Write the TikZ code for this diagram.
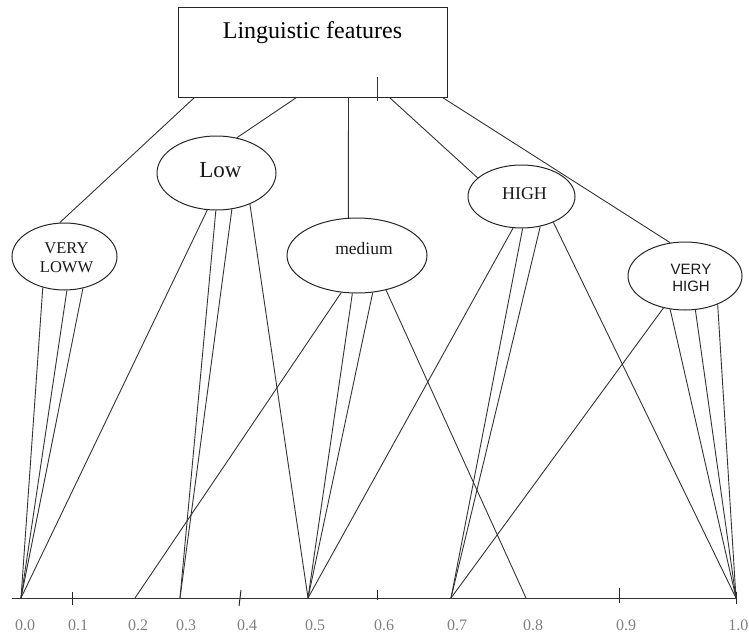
\documentclass[tikz,border=0pt]{standalone}
\usepackage{fontspec}
\setmainfont{Liberation Serif}
\newfontfamily\arialfont{Liberation Sans}
\usetikzlibrary{shapes.geometric}
\begin{document}
\begin{tikzpicture}[x=1pt,y=-1pt,
  ln/.style={draw=black!80, line width=0.9pt},
  oval/.style={ellipse, draw=black!85, line width=1pt, inner sep=0pt},
  lbl/.style={text=black!90, inner sep=0pt, align=center},
  axl/.style={text=black!50, font=\fontsize{16}{18}\selectfont, inner sep=0pt},
  tick/.style={draw=black!85, line width=1pt}]
\useasboundingbox (0,0) rectangle (749,637);

% top box
\node[draw=black!85, line width=1pt, minimum width=269pt, minimum height=90pt,
      inner sep=0pt, text height=31pt, text depth=59pt,
      font=\fontsize{24}{28}\selectfont] (box) at (312.5,52) {Linguistic features};
\draw[ln] ([xshift=200pt,yshift=21pt]box.south west) -- ([xshift=200pt,yshift=-3pt]box.south west);

% ellipses
\node[oval, minimum width=105pt, minimum height=67pt] (vl) at (64.5,256.5) {};
\node[oval, minimum width=119pt, minimum height=74pt] (low) at (216.5,173) {};
\node[oval, minimum width=140pt, minimum height=75pt] (med) at (357,255.5) {};
\node[oval, minimum width=107pt, minimum height=63pt] (high) at (521.5,196.5) {};
\node[oval, minimum width=114pt, minimum height=68pt] (vh) at (685,276) {};

% ellipse texts
\node[lbl, font=\fontsize{16.5}{19}\selectfont] (vlt) at ([xshift=2pt,yshift=-1pt]vl.center) {VERY\\LOWW};
\node[lbl, font=\fontsize{23}{26}\selectfont] (lowt) at ([xshift=4pt,yshift=3pt]low.center) {Low};
\node[lbl, font=\fontsize{17.5}{20}\selectfont] (medt) at ([xshift=7pt,yshift=7pt]med.center) {medium};
\node[lbl, font=\fontsize{18}{20}\selectfont] (hight) at ([xshift=3pt,yshift=3pt]high.center) {HIGH};
\node[lbl, font=\arialfont\fontsize{15}{17}\selectfont] (vht) at ([xshift=6pt,yshift=-2pt]vh.center) {VERY\\HIGH};

% box to ellipses
\draw[ln] ([xshift=17pt]box.south west) -- (vl.98);
\draw[ln] ([xshift=119pt]box.south west) -- (low.60);
\draw[ln] ([xshift=171pt]box.south west) -- (med.103);
\draw[ln] ([xshift=212pt]box.south west) -- (high.157);
\draw[ln] ([xshift=265pt]box.south west) -- (vh.114);

% axis
\coordinate (a0) at (12,598);
\coordinate (a1) at (737,598);
\draw[ln, line width=1pt] (a0) -- (a1);
\coordinate (p00) at (21,598);
\coordinate (p02) at (135,598);
\coordinate (p03) at (180,598);
\coordinate (p05) at (308,598);
\coordinate (p07) at (451,598);
\coordinate (p08) at (526,598);
\coordinate (p10) at (736,598);
\coordinate (q01) at (72,598);
\coordinate (q04) at (240,598);
\coordinate (q06) at (377,598);
\coordinate (q09) at (619,598);
\draw[tick] ([yshift=6pt]q01) -- ([yshift=-7pt]q01);
\draw[tick] ([xshift=1pt,yshift=8pt]q04) -- ([xshift=-1pt,yshift=-8pt]q04);
\draw[tick] ([yshift=8pt]q06) -- ([yshift=-2pt]q06);
\draw[tick] ([yshift=10pt]q09) -- ([yshift=-5pt]q09);
\draw[tick] ([yshift=6pt]p10) -- ([yshift=-6pt]p10);

% ellipses to axis
\draw[ln] (vl.235) -- (p00);
\draw[ln] (vl.274) -- (p00);
\draw[ln] (vl.300) -- (p00);

\draw[ln] (low.256) -- (p00);
\draw[ln] (low.269) -- (p03);
\draw[ln] (low.293) -- (p03);
\draw[ln] (low.317) -- (p05);

\draw[ln] (med.247) -- (p02);
\draw[ln] (med.263) -- (p05);
\draw[ln] (med.293) -- (p05);
\draw[ln] (med.310) -- (p08);

\draw[ln] (high.255) -- (p05);
\draw[ln] (high.272) -- (p07);
\draw[ln] (high.302) -- (p07);
\draw[ln] (high.321) -- (p10);

\draw[ln] (vh.236) -- (p07);
\draw[ln] (vh.246) -- (p10);
\draw[ln] (vh.287) -- (p10);
\draw[ln] (vh.319) -- (p10);

% axis labels
\node[axl] (l00) at (25,625) {0.0};
\node[axl] (l01) at (78,625) {0.1};
\node[axl] (l02) at (138,625) {0.2};
\node[axl] (l03) at (186,625) {0.3};
\node[axl] (l04) at (247,625) {0.4};
\node[axl] (l05) at (315,625) {0.5};
\node[axl] (l06) at (384,625) {0.6};
\node[axl] (l07) at (457,625) {0.7};
\node[axl] (l08) at (533,625) {0.8};
\node[axl] (l09) at (626,625) {0.9};
\node[axl, anchor=east] (l10) at (748.5,625) {1.0};
\end{tikzpicture}
\end{document}
